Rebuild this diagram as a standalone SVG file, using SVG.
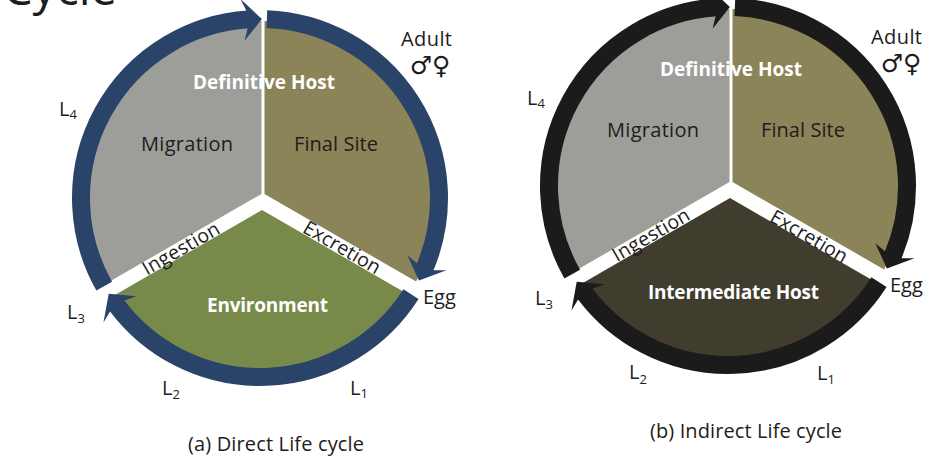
<svg xmlns="http://www.w3.org/2000/svg" width="944" height="466" viewBox="0 0 944 466">
<style>
  text { font-family: 'Open Sans', 'Liberation Sans', sans-serif; fill: #1e1c1c; }
  .lbl { font-size: 20px; }
  .wb { font-size: 19px; font-weight: 700; fill: #ffffff; }
  .band { font-size: 19.5px; }
  .sub { font-size: 13px; }
  .cap { font-size: 20px; }
  .sym { font-family: 'DejaVu Sans', sans-serif; font-size: 25px; }
  .gray { fill: #9d9e99; }
  .tan { fill: #8b8459; }
  .green { fill: #778a4a; }
  .dark { fill: #403d2f; }
  .ring-a { fill: none; stroke: #2a4369; stroke-width: 18; }
  .head-a { fill: #2a4369; }
  .ring-b { fill: none; stroke: #1b1b1b; stroke-width: 18; }
  .head-b { fill: #1b1b1b; }
</style>

<text x="3" y="5" font-size="47">Cycle</text>

<!-- (a) Direct life cycle -->
<g id="diagram-a">
  <g id="a-migration">
    <path class="gray" d="M261.5 193.9 L261.5 21 A177 177 0 0 0 105.32 284.04 Z"/>
    <text class="lbl" x="187" y="151" text-anchor="middle" textLength="92">Migration</text>
  </g>
  <g id="a-final-site">
    <path class="tan" d="M264.5 194 L264.5 21.06 A177 177 0 0 1 416.06 281.5 Z"/>
    <text class="lbl" x="336" y="151" text-anchor="middle" textLength="84">Final Site</text>
  </g>
  <g id="a-environment">
    <path class="green" d="M262 210 L407.5 294 A176 176 0 0 1 113.6 295.7 Z"/>
    <text class="wb" x="267.5" y="312" text-anchor="middle" textLength="121">Environment</text>
  </g>
  <text class="wb" x="264" y="89" text-anchor="middle" textLength="142">Definitive Host</text>
  <g id="a-connectors">
    <path class="ring-a" d="M104.21 286.14 A179 179 0 0 1 248.14 19.39"/>
    <polygon class="head-a" points="261.87,19.01 240.48,-1.05 246.23,10.5 247.55,28.46 244.58,40.75"/>
    <path class="ring-a" d="M266.87 19.13 A179 179 0 0 1 425.01 267.37"/>
    <polygon class="head-a" points="418.92,280.38 446.46,270.32 433.56,270.25 416.95,263.33 407.31,255.14"/>
    <path class="ring-a" d="M410.97 294.18 A179 179 0 0 1 116.86 305.48"/>
    <polygon class="head-a" points="108.7,293.65 103.48,322.5 110.1,311.47 124.46,300.61 136.35,296.36"/>
  </g>
  <text class="band" transform="translate(181 248.6) rotate(-30)" x="0" y="6.5" text-anchor="middle" textLength="86">Ingestion</text>
  <text class="band" transform="translate(342 247.5) rotate(30)" x="0" y="6.5" text-anchor="middle" textLength="86">Excretion</text>
  <text class="lbl" x="426.5" y="46" text-anchor="middle" textLength="51">Adult</text>
  <text class="sym" x="430" y="74" text-anchor="middle">♂♀</text>
  <text class="lbl" x="423" y="304">Egg</text>
  <text class="lbl" x="350" y="395">L<tspan class="sub" dy="3">1</tspan></text>
  <text class="lbl" x="162" y="395">L<tspan class="sub" dy="4">2</tspan></text>
  <text class="lbl" x="67" y="319">L<tspan class="sub" dy="4">3</tspan></text>
  <text class="lbl" x="59" y="116">L<tspan class="sub" dy="3">4</tspan></text>
  <text class="cap" x="276" y="451" text-anchor="middle" textLength="176">(a) Direct Life cycle</text>
</g>

<!-- (b) Indirect life cycle -->
<g id="diagram-b">
  <g transform="translate(468 -12)">
    <g id="b-migration">
      <path class="gray" d="M261.5 193.9 L261.5 21 A177 177 0 0 0 105.32 284.04 Z"/>
    </g>
    <g id="b-final-site">
      <path class="tan" d="M264.5 194 L264.5 21.06 A177 177 0 0 1 416.06 281.5 Z"/>
    </g>
    <g id="b-intermediate-host">
      <path class="dark" d="M262 210 L407.5 294 A176 176 0 0 1 113.6 295.7 Z"/>
    </g>
    <g id="b-connectors">
      <path class="ring-b" d="M104.21 286.14 A179 179 0 0 1 248.14 19.39"/>
      <polygon class="head-b" points="261.87,19.01 240.48,-1.05 246.23,10.5 247.55,28.46 244.58,40.75"/>
      <path class="ring-b" d="M266.87 19.13 A179 179 0 0 1 425.01 267.37"/>
      <polygon class="head-b" points="418.92,280.38 446.46,270.32 433.56,270.25 416.95,263.33 407.31,255.14"/>
      <path class="ring-b" d="M410.97 294.18 A179 179 0 0 1 116.86 305.48"/>
      <polygon class="head-b" points="108.7,293.65 103.48,322.5 110.1,311.47 124.46,300.61 136.35,296.36"/>
    </g>
  </g>
  <text class="lbl" x="653" y="137" text-anchor="middle" textLength="92">Migration</text>
  <text class="lbl" x="803" y="137" text-anchor="middle" textLength="84">Final Site</text>
  <text class="wb" x="731" y="76" text-anchor="middle" textLength="142">Definitive Host</text>
  <text class="wb" x="733.5" y="299" text-anchor="middle" textLength="171">Intermediate Host</text>
  <text class="band" transform="translate(651 235) rotate(-30)" x="0" y="6.5" text-anchor="middle" textLength="86">Ingestion</text>
  <text class="band" transform="translate(809 236.5) rotate(30)" x="0" y="6.5" text-anchor="middle" textLength="86">Excretion</text>
  <text class="lbl" x="896.5" y="44" text-anchor="middle" textLength="51">Adult</text>
  <text class="sym" x="901" y="72" text-anchor="middle">♂♀</text>
  <text class="lbl" x="890" y="292">Egg</text>
  <text class="lbl" x="817" y="380">L<tspan class="sub" dy="4">1</tspan></text>
  <text class="lbl" x="629" y="379">L<tspan class="sub" dy="5">2</tspan></text>
  <text class="lbl" x="535" y="305">L<tspan class="sub" dy="4">3</tspan></text>
  <text class="lbl" x="527" y="105">L<tspan class="sub" dy="3">4</tspan></text>
  <text class="cap" x="746" y="438" text-anchor="middle" textLength="192">(b) Indirect Life cycle</text>
</g>
</svg>
